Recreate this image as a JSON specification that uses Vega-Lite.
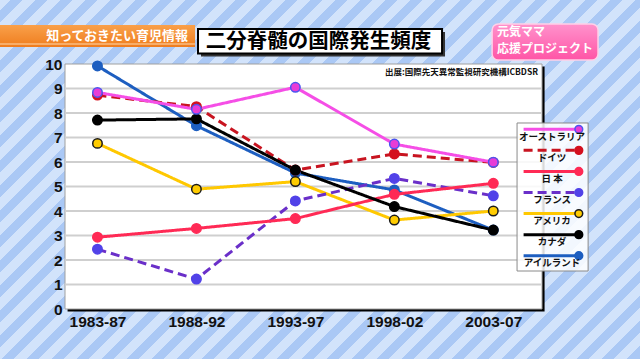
{
"$schema": "https://vega.github.io/schema/vega-lite/v6.json",
"width": 477, "height": 245,
"autosize": {"type": "none"},
"padding": {"left": 65, "top": 64, "right": 98, "bottom": 50},
"background": "#bdd5f8",
"config": {"view": {"stroke": null, "fill": null}, "axisY": {"labelOverlap": false, "labelSeparation": -10}, "axisQuantitative": {"labelOverlap": false}},
"data": {"values": [
{"country":"アイルランド","year":1983,"v":9.92},{"country":"アイルランド","year":1988,"v":7.48},{"country":"アイルランド","year":1993,"v":5.55},{"country":"アイルランド","year":1998,"v":4.86},{"country":"アイルランド","year":2003,"v":3.22},
{"country":"アメリカ","year":1983,"v":6.76},{"country":"アメリカ","year":1988,"v":4.89},{"country":"アメリカ","year":1993,"v":5.2},{"country":"アメリカ","year":1998,"v":3.63},{"country":"アメリカ","year":2003,"v":4.0},
{"country":"フランス","year":1983,"v":2.44},{"country":"フランス","year":1988,"v":1.22},{"country":"フランス","year":1993,"v":4.41},{"country":"フランス","year":1998,"v":5.33},{"country":"フランス","year":2003,"v":4.62},
{"country":"日本","year":1983,"v":2.93},{"country":"日本","year":1988,"v":3.29},{"country":"日本","year":1993,"v":3.69},{"country":"日本","year":1998,"v":4.68},{"country":"日本","year":2003,"v":5.13},
{"country":"ドイツ","year":1983,"v":8.73},{"country":"ドイツ","year":1988,"v":8.26},{"country":"ドイツ","year":1993,"v":5.67},{"country":"ドイツ","year":1998,"v":6.33},{"country":"ドイツ","year":2003,"v":5.98},
{"country":"カナダ","year":1983,"v":7.71},{"country":"カナダ","year":1988,"v":7.76},{"country":"カナダ","year":1993,"v":5.67},{"country":"カナダ","year":1998,"v":4.18},{"country":"カナダ","year":2003,"v":3.22},
{"country":"オーストラリア","year":1983,"v":8.84},{"country":"オーストラリア","year":1988,"v":8.15},{"country":"オーストラリア","year":1993,"v":9.05},{"country":"オーストラリア","year":1998,"v":6.73},{"country":"オーストラリア","year":2003,"v":5.99}
]},
"resolve": {"scale": {"x": "independent", "y": "independent"}},
"layer": [
{"layer": [
 {"data": {"values": [{}]},
  "mark": {"type": "rect", "fill": {"gradient": "linear", "x1": 0, "y1": 0, "x2": 1.18245, "y2": 0.66347, "stops": [
{"offset":0,"color":"#d2e3fb"},{"offset":0.0125,"color":"#d2e3fb"},{"offset":0.0125,"color":"#aac8f5"},{"offset":0.025,"color":"#aac8f5"},
{"offset":0.025,"color":"#d2e3fb"},{"offset":0.0375,"color":"#d2e3fb"},{"offset":0.0375,"color":"#aac8f5"},{"offset":0.05,"color":"#aac8f5"},
{"offset":0.05,"color":"#d2e3fb"},{"offset":0.0625,"color":"#d2e3fb"},{"offset":0.0625,"color":"#aac8f5"},{"offset":0.075,"color":"#aac8f5"},
{"offset":0.075,"color":"#d2e3fb"},{"offset":0.0875,"color":"#d2e3fb"},{"offset":0.0875,"color":"#aac8f5"},{"offset":0.1,"color":"#aac8f5"},
{"offset":0.1,"color":"#d2e3fb"},{"offset":0.1125,"color":"#d2e3fb"},{"offset":0.1125,"color":"#aac8f5"},{"offset":0.125,"color":"#aac8f5"},
{"offset":0.125,"color":"#d2e3fb"},{"offset":0.1375,"color":"#d2e3fb"},{"offset":0.1375,"color":"#aac8f5"},{"offset":0.15,"color":"#aac8f5"},
{"offset":0.15,"color":"#d2e3fb"},{"offset":0.1625,"color":"#d2e3fb"},{"offset":0.1625,"color":"#aac8f5"},{"offset":0.175,"color":"#aac8f5"},
{"offset":0.175,"color":"#d2e3fb"},{"offset":0.1875,"color":"#d2e3fb"},{"offset":0.1875,"color":"#aac8f5"},{"offset":0.2,"color":"#aac8f5"},
{"offset":0.2,"color":"#d2e3fb"},{"offset":0.2125,"color":"#d2e3fb"},{"offset":0.2125,"color":"#aac8f5"},{"offset":0.225,"color":"#aac8f5"},
{"offset":0.225,"color":"#d2e3fb"},{"offset":0.2375,"color":"#d2e3fb"},{"offset":0.2375,"color":"#aac8f5"},{"offset":0.25,"color":"#aac8f5"},
{"offset":0.25,"color":"#d2e3fb"},{"offset":0.2625,"color":"#d2e3fb"},{"offset":0.2625,"color":"#aac8f5"},{"offset":0.275,"color":"#aac8f5"},
{"offset":0.275,"color":"#d2e3fb"},{"offset":0.2875,"color":"#d2e3fb"},{"offset":0.2875,"color":"#aac8f5"},{"offset":0.3,"color":"#aac8f5"},
{"offset":0.3,"color":"#d2e3fb"},{"offset":0.3125,"color":"#d2e3fb"},{"offset":0.3125,"color":"#aac8f5"},{"offset":0.325,"color":"#aac8f5"},
{"offset":0.325,"color":"#d2e3fb"},{"offset":0.3375,"color":"#d2e3fb"},{"offset":0.3375,"color":"#aac8f5"},{"offset":0.35,"color":"#aac8f5"},
{"offset":0.35,"color":"#d2e3fb"},{"offset":0.3625,"color":"#d2e3fb"},{"offset":0.3625,"color":"#aac8f5"},{"offset":0.375,"color":"#aac8f5"},
{"offset":0.375,"color":"#d2e3fb"},{"offset":0.3875,"color":"#d2e3fb"},{"offset":0.3875,"color":"#aac8f5"},{"offset":0.4,"color":"#aac8f5"},
{"offset":0.4,"color":"#d2e3fb"},{"offset":0.4125,"color":"#d2e3fb"},{"offset":0.4125,"color":"#aac8f5"},{"offset":0.425,"color":"#aac8f5"},
{"offset":0.425,"color":"#d2e3fb"},{"offset":0.4375,"color":"#d2e3fb"},{"offset":0.4375,"color":"#aac8f5"},{"offset":0.45,"color":"#aac8f5"},
{"offset":0.45,"color":"#d2e3fb"},{"offset":0.4625,"color":"#d2e3fb"},{"offset":0.4625,"color":"#aac8f5"},{"offset":0.475,"color":"#aac8f5"},
{"offset":0.475,"color":"#d2e3fb"},{"offset":0.4875,"color":"#d2e3fb"},{"offset":0.4875,"color":"#aac8f5"},{"offset":0.5,"color":"#aac8f5"},
{"offset":0.5,"color":"#d2e3fb"},{"offset":0.5125,"color":"#d2e3fb"},{"offset":0.5125,"color":"#aac8f5"},{"offset":0.525,"color":"#aac8f5"},
{"offset":0.525,"color":"#d2e3fb"},{"offset":0.5375,"color":"#d2e3fb"},{"offset":0.5375,"color":"#aac8f5"},{"offset":0.55,"color":"#aac8f5"},
{"offset":0.55,"color":"#d2e3fb"},{"offset":0.5625,"color":"#d2e3fb"},{"offset":0.5625,"color":"#aac8f5"},{"offset":0.575,"color":"#aac8f5"},
{"offset":0.575,"color":"#d2e3fb"},{"offset":0.5875,"color":"#d2e3fb"},{"offset":0.5875,"color":"#aac8f5"},{"offset":0.6,"color":"#aac8f5"},
{"offset":0.6,"color":"#d2e3fb"},{"offset":0.6125,"color":"#d2e3fb"},{"offset":0.6125,"color":"#aac8f5"},{"offset":0.625,"color":"#aac8f5"},
{"offset":0.625,"color":"#d2e3fb"},{"offset":0.6375,"color":"#d2e3fb"},{"offset":0.6375,"color":"#aac8f5"},{"offset":0.65,"color":"#aac8f5"},
{"offset":0.65,"color":"#d2e3fb"},{"offset":0.6625,"color":"#d2e3fb"},{"offset":0.6625,"color":"#aac8f5"},{"offset":0.675,"color":"#aac8f5"},
{"offset":0.675,"color":"#d2e3fb"},{"offset":0.6875,"color":"#d2e3fb"},{"offset":0.6875,"color":"#aac8f5"},{"offset":0.7,"color":"#aac8f5"},
{"offset":0.7,"color":"#d2e3fb"},{"offset":0.7125,"color":"#d2e3fb"},{"offset":0.7125,"color":"#aac8f5"},{"offset":0.725,"color":"#aac8f5"},
{"offset":0.725,"color":"#d2e3fb"},{"offset":0.7375,"color":"#d2e3fb"},{"offset":0.7375,"color":"#aac8f5"},{"offset":0.75,"color":"#aac8f5"},
{"offset":0.75,"color":"#d2e3fb"},{"offset":0.7625,"color":"#d2e3fb"},{"offset":0.7625,"color":"#aac8f5"},{"offset":0.775,"color":"#aac8f5"},
{"offset":0.775,"color":"#d2e3fb"},{"offset":0.7875,"color":"#d2e3fb"},{"offset":0.7875,"color":"#aac8f5"},{"offset":0.8,"color":"#aac8f5"},
{"offset":0.8,"color":"#d2e3fb"},{"offset":0.8125,"color":"#d2e3fb"},{"offset":0.8125,"color":"#aac8f5"},{"offset":0.825,"color":"#aac8f5"},
{"offset":0.825,"color":"#d2e3fb"},{"offset":0.8375,"color":"#d2e3fb"},{"offset":0.8375,"color":"#aac8f5"},{"offset":0.85,"color":"#aac8f5"},
{"offset":0.85,"color":"#d2e3fb"},{"offset":0.8625,"color":"#d2e3fb"},{"offset":0.8625,"color":"#aac8f5"},{"offset":0.875,"color":"#aac8f5"},
{"offset":0.875,"color":"#d2e3fb"},{"offset":0.8875,"color":"#d2e3fb"},{"offset":0.8875,"color":"#aac8f5"},{"offset":0.9,"color":"#aac8f5"},
{"offset":0.9,"color":"#d2e3fb"},{"offset":0.9125,"color":"#d2e3fb"},{"offset":0.9125,"color":"#aac8f5"},{"offset":0.925,"color":"#aac8f5"},
{"offset":0.925,"color":"#d2e3fb"},{"offset":0.9375,"color":"#d2e3fb"},{"offset":0.9375,"color":"#aac8f5"},{"offset":0.95,"color":"#aac8f5"},
{"offset":0.95,"color":"#d2e3fb"},{"offset":0.9625,"color":"#d2e3fb"},{"offset":0.9625,"color":"#aac8f5"},{"offset":0.975,"color":"#aac8f5"},
{"offset":0.975,"color":"#d2e3fb"},{"offset":0.9875,"color":"#d2e3fb"},{"offset":0.9875,"color":"#aac8f5"},{"offset":1,"color":"#aac8f5"}
  ]}},
  "encoding": {"x": {"datum": 1978.0, "type": "quantitative", "axis": null, "scale": {"domain": [1981.36, 2005.46], "nice": false, "zero": false}}, "x2": {"datum": 2010.5}, "y": {"datum": 12.65, "type": "quantitative", "axis": null, "scale": {"domain": [0, 10], "nice": false, "zero": false}}, "y2": {"datum": -2.08}}},
 {"data": {"values": [{}]},
  "mark": {"type": "rect", "fill": {"gradient": "linear", "x1": 0, "y1": 0, "x2": 0, "y2": 1, "stops": [{"offset": 0, "color": "#f9a04a"}, {"offset": 1, "color": "#ef7d1e"}]}},
  "encoding": {"x": {"datum": 1977.9, "type": "quantitative", "axis": null}, "x2": {"datum": 1987.93}, "y": {"datum": 11.592, "type": "quantitative", "axis": null}, "y2": {"datum": 10.694}}},
 {"data": {"values": [{}]},
  "mark": {"type": "rule", "stroke": "#ffd9b0", "strokeWidth": 1.2},
  "encoding": {"x": {"datum": 1977.9, "type": "quantitative", "axis": null}, "x2": {"datum": 1987.93}, "y": {"datum": 10.816, "type": "quantitative", "axis": null}}},
 {"data": {"values": [{}]},
  "mark": {"type": "rect", "fill": "#333333"},
  "encoding": {"x": {"datum": 1988.23, "type": "quantitative", "axis": null}, "x2": {"datum": 2000.56}, "y": {"datum": 11.306, "type": "quantitative", "axis": null}, "y2": {"datum": 10.306}}},
 {"data": {"values": [{}]},
  "mark": {"type": "rect", "fill": "#ffffff", "stroke": "#000000", "strokeWidth": 2},
  "encoding": {"x": {"datum": 1988.08, "type": "quantitative", "axis": null}, "x2": {"datum": 2000.41}, "y": {"datum": 11.429, "type": "quantitative", "axis": null}, "y2": {"datum": 10.429}}},
 {"data": {"values": [{}]},
  "mark": {"type": "rect", "cornerRadius": 6, "stroke": "#ffd0e8", "strokeWidth": 1.5, "fill": {"gradient": "linear", "x1": 0, "y1": 0, "x2": 0, "y2": 1, "stops": [{"offset": 0, "color": "#ff92cc"}, {"offset": 1, "color": "#ff55a6"}]}},
  "encoding": {"x": {"datum": 2002.94, "type": "quantitative", "axis": null}, "x2": {"datum": 2008.29}, "y": {"datum": 11.633, "type": "quantitative", "axis": null}, "y2": {"datum": 10.163}}},
 {"data": {"values": [{}]},
  "mark": {"type": "rect", "fill": "#000000"},
  "encoding": {"x": {"datum": 1981.49, "type": "quantitative", "axis": null}, "x2": {"datum": 2005.59}, "y": {"datum": 9.9, "type": "quantitative", "axis": null}, "y2": {"datum": -0.1}}},
 {"data": {"values": [{}]},
  "mark": {"type": "rect", "fill": "#ffffff", "stroke": "#a0a0a0", "strokeWidth": 1},
  "encoding": {"x": {"datum": 1981.36, "type": "quantitative", "axis": null}, "x2": {"datum": 2005.46}, "y": {"datum": 10, "type": "quantitative", "axis": null}, "y2": {"datum": 0}}},
 {"data": {"values": [{}]}, "mark": {"type": "rule", "stroke": "#cfcfcf", "strokeWidth": 2}, "encoding": {"y": {"datum": 1, "type": "quantitative", "axis": null}}},
 {"data": {"values": [{}]}, "mark": {"type": "rule", "stroke": "#cfcfcf", "strokeWidth": 2}, "encoding": {"y": {"datum": 2, "type": "quantitative", "axis": null}}},
 {"data": {"values": [{}]}, "mark": {"type": "rule", "stroke": "#cfcfcf", "strokeWidth": 2}, "encoding": {"y": {"datum": 3, "type": "quantitative", "axis": null}}},
 {"data": {"values": [{}]}, "mark": {"type": "rule", "stroke": "#cfcfcf", "strokeWidth": 2}, "encoding": {"y": {"datum": 4, "type": "quantitative", "axis": null}}},
 {"data": {"values": [{}]}, "mark": {"type": "rule", "stroke": "#cfcfcf", "strokeWidth": 2}, "encoding": {"y": {"datum": 5, "type": "quantitative", "axis": null}}},
 {"data": {"values": [{}]}, "mark": {"type": "rule", "stroke": "#cfcfcf", "strokeWidth": 2}, "encoding": {"y": {"datum": 6, "type": "quantitative", "axis": null}}},
 {"data": {"values": [{}]}, "mark": {"type": "rule", "stroke": "#cfcfcf", "strokeWidth": 2}, "encoding": {"y": {"datum": 7, "type": "quantitative", "axis": null}}},
 {"data": {"values": [{}]}, "mark": {"type": "rule", "stroke": "#cfcfcf", "strokeWidth": 2}, "encoding": {"y": {"datum": 8, "type": "quantitative", "axis": null}}},
 {"data": {"values": [{}]}, "mark": {"type": "rule", "stroke": "#cfcfcf", "strokeWidth": 2}, "encoding": {"y": {"datum": 9, "type": "quantitative", "axis": null}}},
 {"data": {"values": [{}]},
  "mark": {"type": "rect", "fill": "#ffffff", "fillOpacity": 0.85, "stroke": "#8a8a8a", "strokeWidth": 1},
  "encoding": {"x": {"datum": 2004.2, "type": "quantitative", "axis": null}, "x2": {"datum": 2007.79}, "y": {"datum": 7.592, "type": "quantitative", "axis": null}, "y2": {"datum": 1.551}}},
 {"data": {"values": [{}]},
  "mark": {"type": "text", "text": "出展:国際先天異常監視研究機構ICBDSR", "font": "Noto Sans CJK JP", "fontWeight": "bold", "fontSize": 8.5, "color": "#111111", "align": "right", "baseline": "middle"},
  "encoding": {"x": {"datum": 2005.26, "type": "quantitative", "axis": null}, "y": {"datum": 9.673, "type": "quantitative", "axis": null}}},
 {"data": {"values": [{}]},
  "mark": {"type": "text", "text": "知っておきたい育児情報", "font": "Noto Sans CJK JP", "fontWeight": "bold", "fontSize": 13, "color": "#ffffff", "align": "right", "baseline": "middle"},
  "encoding": {"x": {"datum": 1987.58, "type": "quantitative", "axis": null}, "y": {"datum": 11.143, "type": "quantitative", "axis": null}}},
 {"data": {"values": [{}]},
  "mark": {"type": "text", "text": "二分脊髄の国際発生頻度", "font": "Noto Sans CJK JP", "fontWeight": "bold", "fontSize": 20.5, "color": "#000000", "align": "center", "baseline": "middle"},
  "encoding": {"x": {"datum": 1994.17, "type": "quantitative", "axis": null}, "y": {"datum": 10.91, "type": "quantitative", "axis": null}}},
 {"data": {"values": [{}]},
  "mark": {"type": "text", "text": "元気ママ", "font": "Noto Sans CJK JP", "fontWeight": "bold", "fontSize": 12, "color": "#ffffff", "align": "left", "baseline": "middle"},
  "encoding": {"x": {"datum": 2003.19, "type": "quantitative", "axis": null}, "y": {"datum": 11.306, "type": "quantitative", "axis": null}}},
 {"data": {"values": [{}]},
  "mark": {"type": "text", "text": "応援プロジェクト", "font": "Noto Sans CJK JP", "fontWeight": "bold", "fontSize": 12, "color": "#ffffff", "align": "left", "baseline": "middle"},
  "encoding": {"x": {"datum": 2003.19, "type": "quantitative", "axis": null}, "y": {"datum": 10.612, "type": "quantitative", "axis": null}}}
]},
{"layer": [
 {"mark": {"type": "line", "strokeWidth": 3},
  "encoding": {
   "x": {"field": "year", "type": "quantitative", "scale": {"domain": [1981.36, 2005.46], "nice": false, "zero": false},
         "axis": {"values": [1983, 1988, 1993, 1998, 2003], "labelExpr": "datum.value + '-' + (((datum.value + 4) % 100) < 10 ? '0' : '') + ((datum.value + 4) % 100)", "title": null, "grid": false, "ticks": false, "domain": false, "labelFont": "Liberation Sans", "labelFontWeight": "bold", "labelFontSize": 15.5, "labelColor": "#111111", "labelPadding": 5, "labelFlush": false, "labelOverlap": false, "zindex": 1}},
   "y": {"field": "v", "type": "quantitative", "scale": {"domain": [0, 10], "nice": false, "zero": false},
         "axis": {"values": [0, 1, 2, 3, 4, 5, 6, 7, 8, 9, 10], "tickCount": 11, "labelSeparation": -10, "title": null, "grid": false, "ticks": false, "domain": false, "labelFont": "Liberation Sans", "labelFontWeight": "bold", "labelFontSize": 15.5, "labelColor": "#111111", "labelPadding": 3, "labelFlush": false, "labelOverlap": false, "zindex": 1}},
   "color": {"field": "country", "type": "nominal", "legend": null,
             "scale": {"domain": ["オーストラリア", "ドイツ", "日本", "フランス", "アメリカ", "カナダ", "アイルランド"], "range": ["#f54ee6", "#c81420", "#ff2a55", "#6a2fc9", "#ffc800", "#000000", "#1d5ec0"]}},
   "strokeDash": {"field": "country", "type": "nominal", "legend": null,
             "scale": {"domain": ["オーストラリア", "ドイツ", "日本", "フランス", "アメリカ", "カナダ", "アイルランド"], "range": [[1, 0], [9, 5], [1, 0], [9, 5], [1, 0], [1, 0], [1, 0]]}}
  }},
 {"mark": {"type": "circle", "size": 90, "strokeWidth": 1.5, "opacity": 1},
  "encoding": {
   "x": {"field": "year", "type": "quantitative"},
   "y": {"field": "v", "type": "quantitative"},
   "fill": {"field": "country", "type": "nominal", "legend": null,
            "scale": {"domain": ["オーストラリア", "ドイツ", "日本", "フランス", "アメリカ", "カナダ", "アイルランド"], "range": ["#e83cd6", "#d4101e", "#ff2a55", "#5142e8", "#ffcc00", "#000000", "#1d5ec0"]}},
   "stroke": {"field": "country", "type": "nominal", "legend": null,
            "scale": {"domain": ["オーストラリア", "ドイツ", "日本", "フランス", "アメリカ", "カナダ", "アイルランド"], "range": ["#4b55f0", "#d4101e", "#ff2a55", "#5142e8", "#1a1a1a", "#000000", "#1d5ec0"]}}
  }}
]},
{"transform": [{"filter": "datum.year == 2003"}],
 "layer": [
 {"mark": {"type": "rule", "strokeWidth": 3},
  "encoding": {
   "x": {"datum": 2004.53, "type": "quantitative", "axis": null, "scale": {"domain": [1981.36, 2005.46], "nice": false, "zero": false}}, "x2": {"datum": 2007.32},
   "y": {"field": "country", "type": "nominal", "axis": null, "scale": {"type": "point", "padding": 0, "domain": ["オーストラリア", "ドイツ", "日本", "フランス", "アメリカ", "カナダ", "アイルランド"], "range": [65.3, 191.7]}},
   "color": {"field": "country", "type": "nominal", "legend": null},
   "strokeDash": {"field": "country", "type": "nominal", "legend": null}
  }},
 {"mark": {"type": "circle", "size": 60, "strokeWidth": 1.5, "opacity": 1},
  "encoding": {
   "x": {"datum": 2007.32, "type": "quantitative", "axis": null},
   "y": {"field": "country", "type": "nominal", "axis": null},
   "fill": {"field": "country", "type": "nominal", "legend": null},
   "stroke": {"field": "country", "type": "nominal", "legend": null}
  }},
 {"mark": {"type": "text", "font": "Noto Sans CJK JP", "fontWeight": "bold", "fontSize": 9.5, "color": "#111111", "align": "center", "baseline": "middle", "dy": 7.5},
  "encoding": {
   "x": {"datum": 2005.97, "type": "quantitative", "axis": null},
   "y": {"field": "country", "type": "nominal", "axis": null},
   "text": {"condition": {"test": "datum.country === '日本'", "value": "日 本"}, "field": "country", "type": "nominal"}
  }}
 ]}
]
}
